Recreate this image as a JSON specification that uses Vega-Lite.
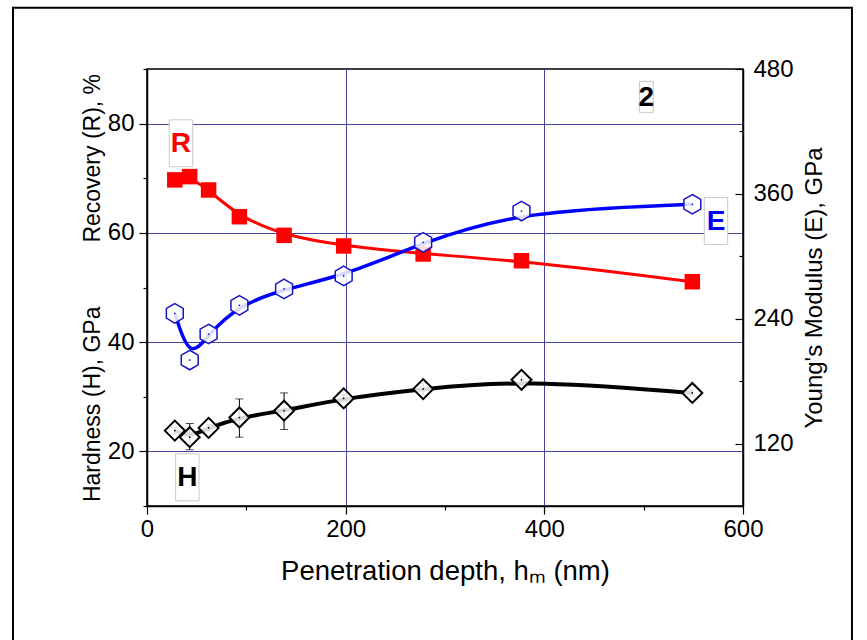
{
  "$schema": "https://vega.github.io/schema/vega-lite/v6.json",
  "autosize": {"type": "none"},
  "width": 596,
  "height": 437,
  "padding": {"left": 147, "top": 69, "right": 124, "bottom": 134},
  "background": "white",
  "config": {
    "view": {"stroke": "black", "strokeWidth": 1.5},
    "font": "Liberation Sans",
    "axis": {
      "domainColor": "black",
      "domainWidth": 1.5,
      "tickColor": "black",
      "tickWidth": 1.2,
      "labelFont": "Liberation Sans",
      "labelFontSize": 24,
      "labelColor": "black",
      "titleFont": "Liberation Sans",
      "titleFontWeight": "normal",
      "titleColor": "black",
      "gridColor": "#4545a0",
      "gridWidth": 1
    }
  },
  "datasets": {
    "R": [
      {"x": 28, "y": 69.7}, {"x": 43, "y": 70.3}, {"x": 62, "y": 67.85},
      {"x": 93, "y": 62.96}, {"x": 138, "y": 59.55}, {"x": 198, "y": 57.6},
      {"x": 278, "y": 56.13}, {"x": 377, "y": 54.9}, {"x": 549, "y": 51.06}
    ],
    "E": [
      {"x": 28, "e": 245.2}, {"x": 43, "e": 200.3}, {"x": 62, "e": 225.3},
      {"x": 93, "e": 252.9}, {"x": 138, "e": 268.6}, {"x": 198, "e": 281.1},
      {"x": 278, "e": 313.4}, {"x": 377, "e": 343.5}, {"x": 549, "e": 350}
    ],
    "H": [
      {"x": 28, "y": 23.8, "lo": 23.2, "hi": 24.4},
      {"x": 43, "y": 22.6, "lo": 20.3, "hi": 25.1},
      {"x": 62, "y": 24.3, "lo": 23.7, "hi": 24.9},
      {"x": 93, "y": 26.2, "lo": 22.6, "hi": 29.6},
      {"x": 138, "y": 27.45, "lo": 24.0, "hi": 30.7},
      {"x": 198, "y": 29.7, "lo": 29.0, "hi": 30.4},
      {"x": 278, "y": 31.4, "lo": 30.35, "hi": 32.45},
      {"x": 377, "y": 33.1, "lo": 32.4, "hi": 33.8},
      {"x": 549, "y": 30.7, "lo": 30.1, "hi": 31.3}
    ],
    "notes": [
      {"x": 34.2, "y": 76.4, "label": "R"},
      {"x": 40.6, "y": 15.25, "label": "H"},
      {"x": 572.8, "y": 62.17, "label": "E"},
      {"x": 502.7, "y": 84.9, "label": "2"}
    ]
  },
  "layer": [
    {
      "layer": [
        {
          "data": {"name": "R"},
          "mark": {"type": "line", "interpolate": "basis", "color": "#ff0000", "strokeWidth": 3},
          "encoding": {
            "x": {
              "field": "x", "type": "quantitative",
              "scale": {"domain": [0, 600], "nice": false, "zero": false},
              "title": "Penetration depth, h\u2098 (nm)",
              "axis": {
                "values": [0, 100, 200, 300, 400, 500, 600],
                "labelExpr": "datum.value % 200 == 0 ? datum.label : ''",
                "tickSize": {"condition": {"test": "datum.value % 200 == 0", "value": 8}, "value": 4},
                "grid": true,
                "gridOpacity": {"condition": {"test": "datum.value == 200 || datum.value == 400", "value": 1}, "value": 0},
                "labelPadding": 3,
                "labelFlush": false,
                "titleFontSize": 27.5,
                "titlePadding": 16
              }
            },
            "y": {
              "field": "y", "type": "quantitative",
              "scale": {"domain": [10, 90], "nice": false, "zero": false},
              "title": "Hardness (H), GPa\u00a0\u00a0\u00a0\u00a0\u00a0\u00a0\u00a0\u00a0\u00a0\u00a0Recovery (R), %",
              "axis": {
                "values": [10, 20, 30, 40, 50, 60, 70, 80, 90],
                "labelExpr": "datum.value % 20 == 0 ? datum.label : ''",
                "tickSize": {"condition": {"test": "datum.value % 20 == 0", "value": 8}, "value": 4},
                "grid": true,
                "gridOpacity": {"condition": {"test": "datum.value % 20 == 0", "value": 1}, "value": 0},
                "labelPadding": 5,
                "labelFlush": false,
                "titleFontSize": 23,
                "titlePadding": 3
              }
            }
          }
        },
        {
          "data": {"name": "R"},
          "mark": {"type": "point", "shape": "square", "filled": true, "color": "#ff0000", "size": 240, "opacity": 1},
          "encoding": {
            "x": {"field": "x", "type": "quantitative"},
            "y": {"field": "y", "type": "quantitative"}
          }
        },
        {
          "data": {"name": "H"},
          "mark": {"type": "line", "interpolate": "basis", "color": "black", "strokeWidth": 4},
          "encoding": {
            "x": {"field": "x", "type": "quantitative"},
            "y": {"field": "y", "type": "quantitative"}
          }
        },
        {
          "data": {"name": "H"},
          "mark": {"type": "errorbar", "ticks": {"size": 8, "color": "black", "strokeWidth": 1}, "rule": {"color": "black", "strokeWidth": 1}},
          "encoding": {
            "x": {"field": "x", "type": "quantitative"},
            "y": {"field": "lo", "type": "quantitative", "title": "Hardness (H), GPa\u00a0\u00a0\u00a0\u00a0\u00a0\u00a0\u00a0\u00a0\u00a0\u00a0Recovery (R), %"},
            "y2": {"field": "hi"}
          }
        },
        {
          "data": {"name": "H"},
          "mark": {"type": "point", "shape": "diamond", "filled": true, "fill": "white", "fillOpacity": 0.85, "stroke": "black", "strokeWidth": 2, "size": 400, "opacity": 1},
          "encoding": {
            "x": {"field": "x", "type": "quantitative"},
            "y": {"field": "y", "type": "quantitative"}
          }
        },
        {
          "data": {"name": "H"},
          "mark": {"type": "point", "shape": "circle", "filled": true, "color": "black", "size": 3, "opacity": 1},
          "encoding": {
            "x": {"field": "x", "type": "quantitative"},
            "y": {"field": "y", "type": "quantitative"}
          }
        },
        {
          "data": {"name": "notes"},
          "transform": [{"filter": "datum.label != '2'"}],
          "mark": {"type": "point", "shape": "M-0.5,-1H0.5V1H-0.5Z", "filled": true, "fill": "white", "stroke": "#c8c8c8", "strokeWidth": 1, "size": 2200, "opacity": 1},
          "encoding": {
            "x": {"field": "x", "type": "quantitative"},
            "y": {"field": "y", "type": "quantitative"}
          }
        },
        {
          "data": {"name": "notes"},
          "transform": [{"filter": "datum.label == '2'"}],
          "mark": {"type": "point", "shape": "M-0.45,-1H0.45V1H-0.45Z", "filled": true, "fill": "white", "stroke": "#c8c8c8", "strokeWidth": 1, "size": 961, "opacity": 1},
          "encoding": {
            "x": {"field": "x", "type": "quantitative"},
            "y": {"field": "y", "type": "quantitative"}
          }
        },
        {
          "data": {"name": "notes"},
          "mark": {"type": "text", "fontWeight": "bold", "fontSize": 28, "baseline": "middle", "align": "center", "dy": 1},
          "encoding": {
            "x": {"field": "x", "type": "quantitative"},
            "y": {"field": "y", "type": "quantitative"},
            "text": {"field": "label"},
            "color": {"field": "label", "type": "nominal", "scale": {"domain": ["R", "H", "E", "2"], "range": ["#ff0000", "black", "#0000ff", "black"]}, "legend": null}
          }
        },
        {
          "data": {"values": [{}]},
          "mark": {"type": "rect", "fill": null, "fillOpacity": 0, "stroke": "black", "strokeWidth": 2, "clip": false},
          "encoding": {
            "x": {"datum": -134.9, "type": "quantitative"},
            "x2": {"datum": 709.7},
            "y": {"datum": 101.2, "type": "quantitative"},
            "y2": {"datum": -22}
          }
        }
      ]
    },
    {
      "data": {"name": "E"},
      "layer": [
        {
          "mark": {"type": "line", "interpolate": "basis", "color": "#0000ff", "strokeWidth": 3.5},
          "encoding": {
            "x": {"field": "x", "type": "quantitative"},
            "y": {
              "field": "e", "type": "quantitative",
              "scale": {"domain": [60, 480], "nice": false, "zero": false},
              "title": "Young's Modulus (E), GPa",
              "axis": {
                "orient": "right",
                "values": [60, 120, 180, 240, 300, 360, 420, 480],
                "labelExpr": "datum.value % 120 == 0 ? datum.label : ''",
                "tickSize": {"condition": {"test": "datum.value % 120 == 0", "value": -8}, "value": -4},
                "grid": false,
                "labelPadding": 18,
                "labelFlush": false,
                "titleFontSize": 24,
                "titleAngle": 270,
                "titlePadding": 33
              }
            }
          }
        },
        {
          "mark": {"type": "point", "shape": "M0,-1L0.866,-0.5L0.866,0.5L0,1L-0.866,0.5L-0.866,-0.5Z", "filled": true, "fill": "white", "fillOpacity": 0.85, "stroke": "#1515c8", "strokeWidth": 1.5, "size": 380, "opacity": 1},
          "encoding": {
            "x": {"field": "x", "type": "quantitative"},
            "y": {"field": "e", "type": "quantitative"}
          }
        },
        {
          "mark": {"type": "point", "shape": "circle", "filled": true, "color": "#1515c8", "size": 3, "opacity": 1},
          "encoding": {
            "x": {"field": "x", "type": "quantitative"},
            "y": {"field": "e", "type": "quantitative"}
          }
        }
      ]
    }
  ],
  "resolve": {"scale": {"y": "independent"}}
}
